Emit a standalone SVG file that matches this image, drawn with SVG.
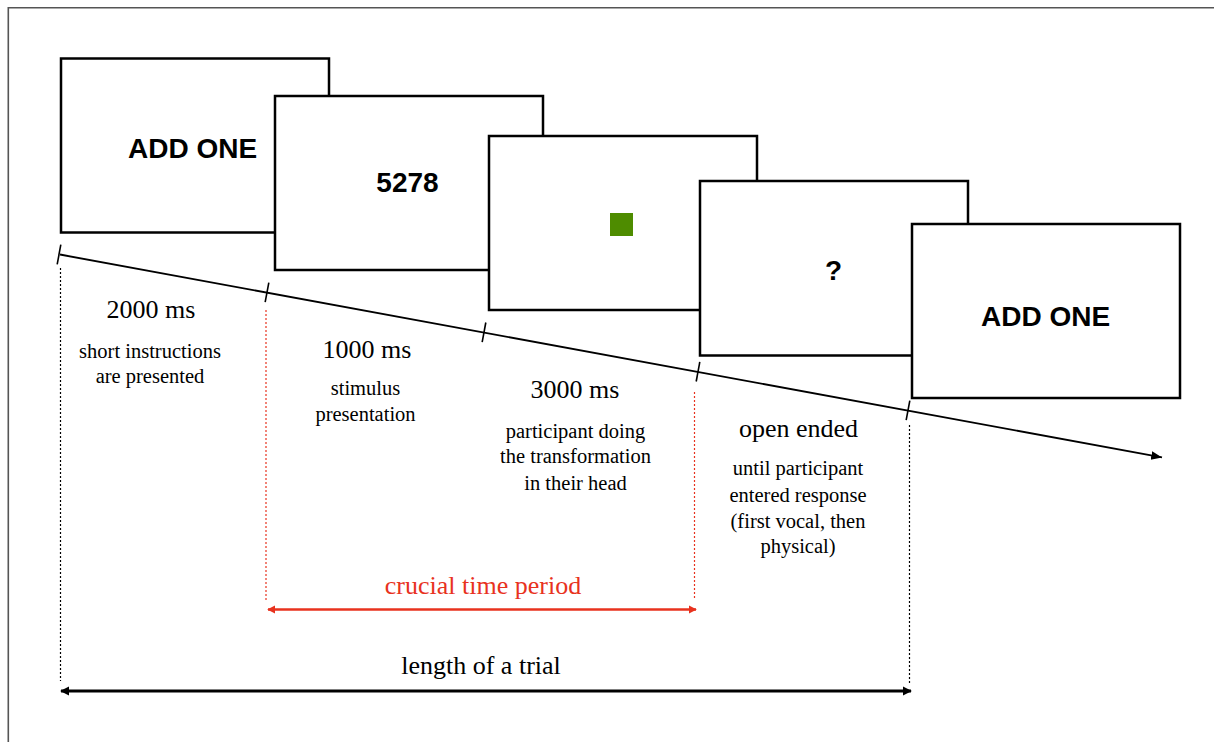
<svg xmlns="http://www.w3.org/2000/svg" width="1214" height="742" viewBox="0 0 1214 742">
<style>
.scr{fill:#fff;stroke:#000;stroke-width:2.5}
.big{font-family:"Liberation Sans",Arial,sans-serif;font-weight:bold;font-size:28px;fill:#000;text-anchor:middle}
.t1{font-family:"Liberation Serif","Times New Roman",serif;font-size:26px;fill:#000;text-anchor:middle}
.t2{font-family:"Liberation Serif","Times New Roman",serif;font-size:20.5px;fill:#000;text-anchor:middle}
.red{fill:#e8321e}
.tick{stroke:#000;stroke-width:1.6}
.dotk{stroke:#000;stroke-width:1.2;stroke-dasharray:2 2}
.dotr{stroke:#e8321e;stroke-width:1.2;stroke-dasharray:2 2}
</style>
<defs>
<marker id="ah" viewBox="0 0 10 10" refX="10" refY="5" markerWidth="6" markerHeight="6" orient="auto" markerUnits="strokeWidth">
<path d="M0,1 L10,5 L0,9 z" fill="#000"/>
</marker>
<marker id="bk" viewBox="0 0 10 10" refX="9" refY="5" markerWidth="3" markerHeight="3.2" orient="auto-start-reverse" markerUnits="strokeWidth">
<path d="M0,0 L10,5 L0,10 z" fill="#000"/>
</marker>
<marker id="rd" viewBox="0 0 10 10" refX="9" refY="5" markerWidth="3.2" markerHeight="3.6" orient="auto-start-reverse" markerUnits="strokeWidth">
<path d="M0,0 L10,5 L0,10 z" fill="#e8321e"/>
</marker>
</defs>
<path d="M8.3,742 V7.7 H1214" fill="none" stroke="#555" stroke-width="1.6"/>
<g id="screen1"><rect class="scr" x="61" y="58.5" width="268" height="174"/><text class="big" x="192.5" y="157.5">ADD ONE</text></g>
<g id="screen2"><rect class="scr" x="275" y="96" width="268" height="174"/><text class="big" x="407.5" y="191.7">5278</text></g>
<g id="screen3"><rect class="scr" x="489" y="136" width="268" height="174"/><rect x="610" y="213" width="23" height="23" fill="#4e8c00"/></g>
<g id="screen4"><rect class="scr" x="700" y="181" width="268" height="174.5"/><text class="big" x="833.5" y="279.5">?</text></g>
<g id="screen5"><rect class="scr" x="912" y="224" width="268" height="174"/><text class="big" x="1045.5" y="326">ADD ONE</text></g>
<g id="connectors">
<line x1="60" y1="254.5" x2="1162" y2="457.4" stroke="#000" stroke-width="1.8" marker-end="url(#ah)"/>
<line class="tick" x1="57.2" y1="264.3" x2="60.8" y2="244.7"/>
<line class="tick" x1="265.2" y1="302.2" x2="268.8" y2="282.6"/>
<line class="tick" x1="482.2" y1="342.1" x2="485.8" y2="322.5"/>
<line class="tick" x1="696.2" y1="381.5" x2="699.8" y2="361.9"/>
<line class="tick" x1="906.2" y1="420.2" x2="909.8" y2="400.6"/>
<line class="dotk" x1="60.5" y1="268" x2="60.5" y2="681"/>
<line class="dotr" x1="266" y1="310" x2="266" y2="600"/>
<line class="dotr" x1="694.5" y1="392" x2="694.5" y2="600"/>
<line class="dotk" x1="909.5" y1="425" x2="909.5" y2="685"/>
<line x1="268" y1="609.5" x2="696" y2="609.5" stroke="#e8321e" stroke-width="2.6" marker-start="url(#rd)" marker-end="url(#rd)"/>
<line x1="61" y1="691" x2="911" y2="691" stroke="#000" stroke-width="3" marker-start="url(#bk)" marker-end="url(#bk)"/>
</g>
<g id="labels">
<text class="t1" x="151" y="317.7">2000 ms</text>
<text class="t2" x="150" y="357.7">short instructions</text>
<text class="t2" x="150" y="383.3">are presented</text>
<text class="t1" x="367" y="357.7">1000 ms</text>
<text class="t2" x="365.5" y="395">stimulus</text>
<text class="t2" x="365.5" y="421">presentation</text>
<text class="t1" x="575" y="397.7">3000 ms</text>
<text class="t2" x="575.5" y="437.7">participant doing</text>
<text class="t2" x="575.5" y="463.3">the transformation</text>
<text class="t2" x="575.5" y="490">in their head</text>
<text class="t1" x="798.5" y="436.7">open ended</text>
<text class="t2" x="798" y="475">until participant</text>
<text class="t2" x="798" y="501.7">entered response</text>
<text class="t2" x="798" y="527.7">(first vocal, then</text>
<text class="t2" x="798" y="552.7">physical)</text>
<text class="t1 red" x="483" y="593.5">crucial time period</text>
<text class="t1" x="481" y="673.5">length of a trial</text>
</g>
</svg>
